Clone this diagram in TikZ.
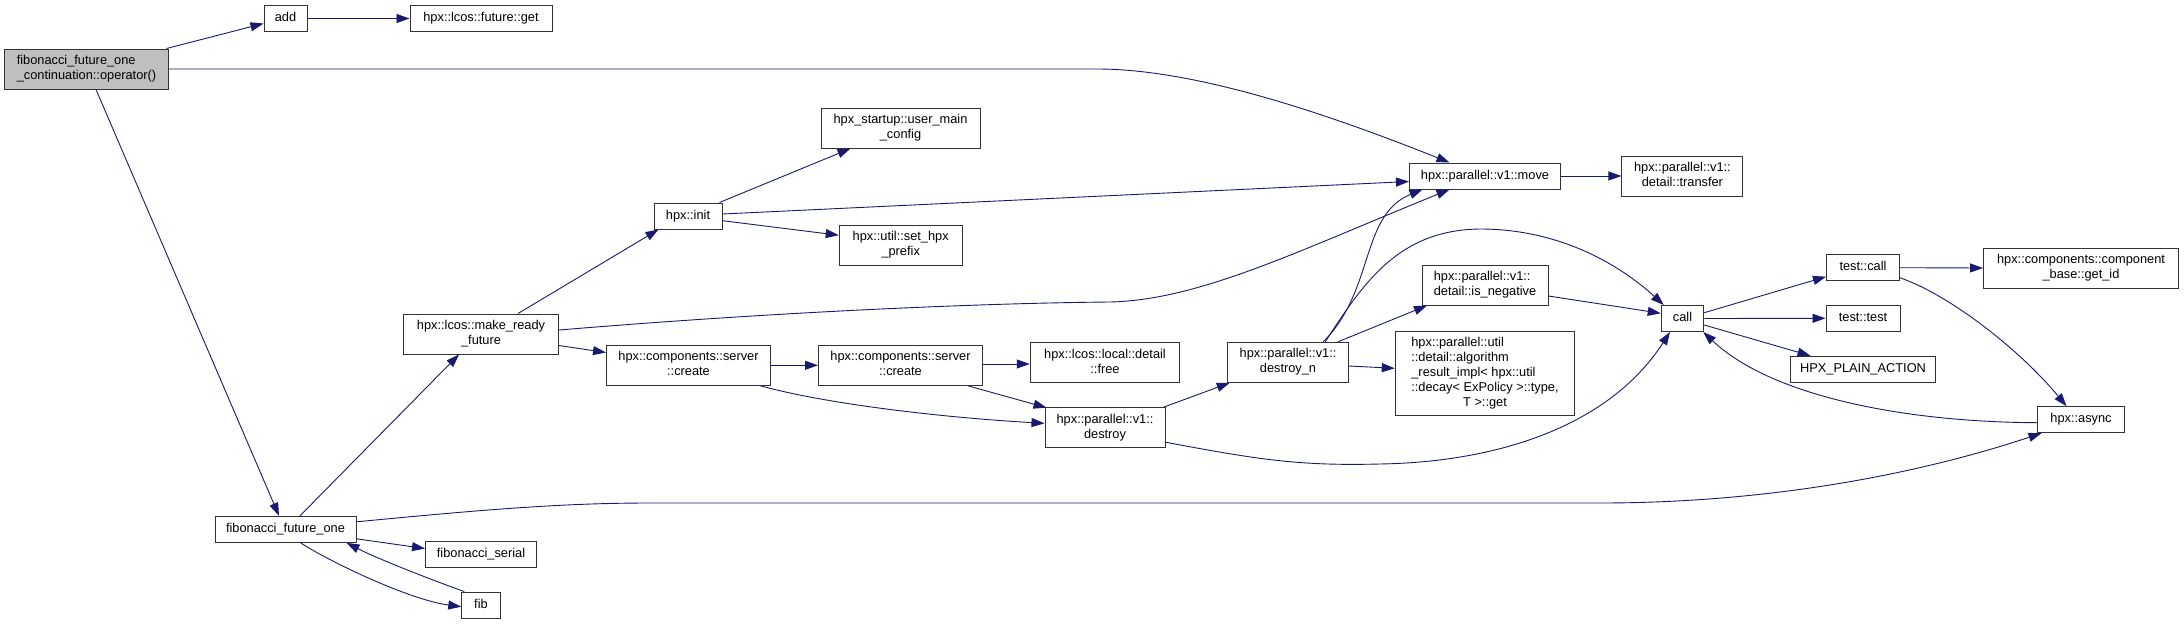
\documentclass[tikz,border=0pt]{standalone}
\usepackage{fontspec}
\newfontfamily\doxfont{Liberation Sans}
\usetikzlibrary{arrows.meta,calc}
\definecolor{edgec}{HTML}{191970}
\definecolor{boxc}{HTML}{333333}
\definecolor{rootc}{HTML}{BFBFBF}
\newcommand\one[1]{\begin{tabular}{@{}c@{}}#1\end{tabular}}
\newcommand\two[2]{\begin{tabular}{@{}l@{}}#1\\\multicolumn{1}{@{}c@{}}{#2}\end{tabular}}
\begin{document}
\begin{tikzpicture}[x=1pt,y=-1pt,
  box/.style={draw=boxc, line width=1pt, fill=white, inner sep=0pt,
    font=\doxfont\fontsize{12.8}{15}\selectfont},
  conn/.style={draw=edgec, line width=0.9pt, -{Triangle[length=13pt,width=9pt]}}]
\fill[white] (0,0) rectangle (2184,624);
\useasboundingbox (0,0) rectangle (2184,624);
% nodes
\node[box, fill=rootc, minimum width=164pt, minimum height=40pt] (main) at (86.5,69) {\two{fibonacci\_future\_one}{\_continuation::operator()}};
\node[box, minimum width=43pt, minimum height=26pt] (add) at (285.5,18.5) {\one{add}};
\node[box, minimum width=142pt, minimum height=26pt] (get) at (481,18.5) {\one{hpx::lcos::future::get}};
\node[box, minimum width=141pt, minimum height=26pt] (ffo) at (285.5,529.3) {\one{fibonacci\_future\_one}};
\node[box, minimum width=111pt, minimum height=26pt] (fser) at (481,554.5) {\one{fibonacci\_serial}};
\node[box, minimum width=38.5pt, minimum height=26pt] (fib) at (481,605) {\one{fib}};
\node[box, minimum width=155pt, minimum height=40pt] (mrf) at (481,334) {\two{hpx::lcos::make\_ready}{\_future}};
\node[box, minimum width=68pt, minimum height=26pt] (init) at (688,216) {\one{hpx::init}};
\node[box, minimum width=164pt, minimum height=40pt] (create1) at (688.5,365.3) {\two{hpx::components::server}{::create}};
\node[box, minimum width=159pt, minimum height=40pt] (umc) at (900.5,128) {\two{hpx\_startup::user\_main}{\_config}};
\node[box, minimum width=123pt, minimum height=40pt] (shp) at (900.7,245) {\two{hpx::util::set\_hpx}{\_prefix}};
\node[box, minimum width=164pt, minimum height=40pt] (create2) at (900.5,365.3) {\two{hpx::components::server}{::create}};
\node[box, minimum width=149.5pt, minimum height=40pt] (free) at (1105,362.7) {\two{hpx::lcos::local::detail}{::free}};
\node[box, minimum width=120pt, minimum height=40pt] (destroy) at (1105,427.7) {\two{hpx::parallel::v1::}{destroy}};
\node[box, minimum width=120.5pt, minimum height=40pt] (dn) at (1288,362.3) {\two{hpx::parallel::v1::}{destroy\_n}};
\node[box, minimum width=151pt, minimum height=26pt] (move) at (1485,176) {\one{hpx::parallel::v1::move}};
\node[box, minimum width=126pt, minimum height=40pt] (isneg) at (1485,285) {\two{hpx::parallel::v1::}{detail::is\_negative}};
\node[box, minimum width=179.5pt, minimum height=84pt] (alg) at (1485,373) {\two{hpx::parallel::util\\::detail::algorithm\\\_result\_impl< hpx::util\\::decay< ExPolicy >::type,}{T >::get}};
\node[box, minimum width=121pt, minimum height=40pt] (transfer) at (1682.4,176) {\two{hpx::parallel::v1::}{detail::transfer}};
\node[box, minimum width=42.5pt, minimum height=26pt] (call) at (1682.5,318.5) {\one{call}};
\node[box, minimum width=73pt, minimum height=26pt] (tcall) at (1863,267.7) {\one{test::call}};
\node[box, minimum width=74pt, minimum height=26pt] (ttest) at (1863,318.3) {\one{test::test}};
\node[box, minimum width=145pt, minimum height=26pt] (hpa) at (1863,369.3) {\one{HPX\_PLAIN\_ACTION}};
\node[box, minimum width=195pt, minimum height=40pt] (getid) at (2081,268) {\two{hpx::components::component}{\_base::get\_id}};
\node[box, minimum width=87pt, minimum height=26pt] (async) at (2081,419.7) {\one{hpx::async}};
% connectors
\draw[conn] ($(main.north west)+(162.5,0)$) -- ($(add.west)+(0,5)$);
\draw[conn] (add.east) -- (get.west);
\draw[conn] (main.east) -- (1100,69) .. controls (1200,70) and (1330,115) .. ($(move.north west)+(40.5,0)$);
\draw[conn] ($(main.south)+(9.5,0)$) -- ($(ffo.north)+(-6.5,0)$);
\draw[conn] ($(ffo.north)+(14.5,0)$) -- ($(mrf.south)+(-22,0)$);
\draw[conn] ($(ffo.north east)+(0,6)$) .. controls (480,510) and (560,503) .. (650,503) -- (1600,503) .. controls (1750,503) and (1900,480) .. ($(async.south west)+(4.5,0)$);
\draw[conn] ($(ffo.south east)+(0,-4)$) -- ($(fser.west)+(0,-6)$);
\draw[conn] ($(ffo.south)+(15,0)$) .. controls (330,562) and (410,600) .. ($(fib.west)+(0,1.7)$);
\draw[conn] ($(fib.north west)+(3,0)$) .. controls (440,583) and (380,560) .. ($(ffo.south east)+(-10,0)$);
\draw[conn] ($(mrf.north)+(37,0)$) -- ($(init.south west)+(5,0)$);
\draw[conn] ($(mrf.east)+(0,-4)$) .. controls (800,310) and (1000,303) .. (1110,302) .. controls (1200,300) and (1300,250) .. ($(move.south west)+(40.5,0)$);
\draw[conn] ($(mrf.south east)+(0,-9)$) -- ($(create1.north west)+(0,7.7)$);
\draw[conn] ($(init.north east)+(-3,0)$) -- ($(umc.south west)+(30,0)$);
\draw[conn] ($(init.east)+(0,-2)$) -- ($(move.west)+(0,5.5)$);
\draw[conn] ($(init.east)+(0,4.7)$) -- ($(shp.north west)+(0,10.7)$);
\draw[conn] (create1.east) -- (create2.west);
\draw[conn] ($(create1.south east)+(-10.5,0)$) .. controls (830,405) and (950,418) .. ($(destroy.west)+(0,-4.4)$);
\draw[conn] ($(create2.east)+(0,-1.3)$) -- ($(free.west)+(0,1.3)$);
\draw[conn] ($(create2.south east)+(-15,0)$) -- ($(destroy.north west)+(2,0.5)$);
\draw[conn] ($(destroy.north east)+(-2,0)$) -- ($(dn.south west)+(2.5,0)$);
\draw[conn] ($(destroy.south east)+(0,-6)$) .. controls (1260,460) and (1300,466) .. (1380,464) .. controls (1500,462) and (1610,425) .. ($(call.south west)+(9.25,0)$);
\draw[conn] ($(dn.north west)+(96,0)$) .. controls (1375,290) and (1360,215) .. ($(move.south west)+(13.5,0)$);
\draw[conn] ($(dn.north west)+(98,0)$) .. controls (1365,280) and (1400,230) .. (1480,229) .. controls (1560,229) and (1620,265) .. ($(call.north west)+(3,0)$);
\draw[conn] ($(dn.north east)+(-10.75,0)$) -- ($(isneg.south west)+(5.5,0)$);
\draw[conn] ($(dn.east)+(0,3.7)$) -- ($(alg.west)+(0,-4.7)$);
\draw[conn] ($(isneg.east)+(0,11)$) -- ($(call.west)+(0,-5.2)$);
\draw[conn] (move.east) -- (transfer.west);
\draw[conn] ($(call.east)+(0,-5.8)$) -- ($(tcall.west)+(0,9)$);
\draw[conn] (call.east) -- (ttest.west);
\draw[conn] ($(call.east)+(0,6.5)$) -- ($(hpa.north west)+(20.5,0)$);
\draw[conn] (tcall.east) -- (getid.west);
\draw[conn] ($(tcall.south east)+(0,-3.4)$) .. controls (1950,295) and (2020,350) .. ($(async.north west)+(29.5,0)$);
\draw[conn] ($(async.west)+(0,3)$) .. controls (1900,422) and (1770,395) .. ($(call.south east)+(-1,0)$);
\end{tikzpicture}
\end{document}
